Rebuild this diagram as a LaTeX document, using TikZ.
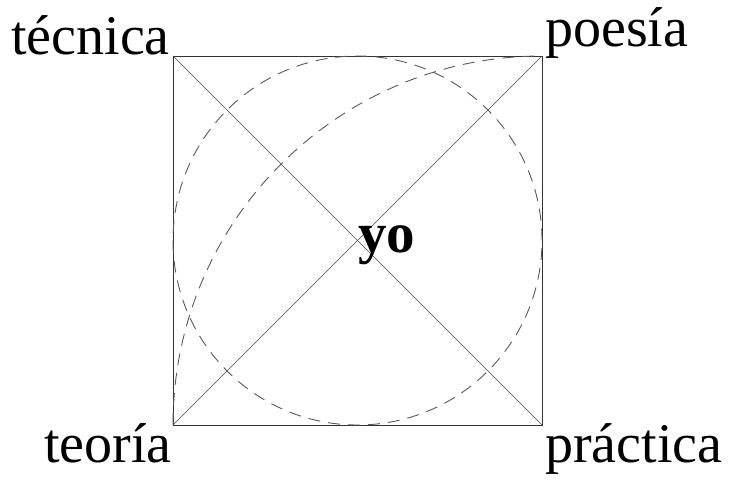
\documentclass[tikz,border=0pt]{standalone}
\usepackage{fontspec}
\setmainfont{Liberation Serif}
\begin{document}
\begin{tikzpicture}[x=1pt,y=-1pt,
  frame/.style={draw=black!80,line width=0.8pt},
  diag/.style={draw=black!70,line width=0.7pt},
  dashline/.style={draw=black!65,line width=0.9pt,dash pattern=on 12pt off 8pt},
  lbl/.style={inner sep=0pt,font=\fontsize{56}{60}\selectfont},
  center/.style={inner sep=0pt,font=\fontsize{57}{60}\selectfont\bfseries}]
\useasboundingbox (0,0) rectangle (732,481);
\coordinate (tl) at (173,56);
\coordinate (tr) at (542,56);
\coordinate (bl) at (173,425);
\coordinate (br) at (542,425);
\coordinate (c) at (357.5,240.5);
\draw[frame] (tl) -- (tr) -- (br) -- (bl) -- cycle;
\draw[diag] (tl) -- (br);
\draw[diag] (bl) -- (tr);
\draw[dashline] (c) circle[radius=184.5pt];
\draw[dashline] (bl) arc[start angle=180,end angle=90,radius=369pt];
\node[lbl,anchor=base east] (tecnica) at (170,55) {técnica};
\node[lbl,anchor=base west] (poesia) at (545,47) {poesía};
\node[lbl,anchor=base east] (teoria) at (172,462) {teoría};
\node[lbl,anchor=base west] (practica) at (545,463) {práctica};
\node[center,anchor=base west] (yo) at (358,253) {yo};
\end{tikzpicture}
\end{document}
